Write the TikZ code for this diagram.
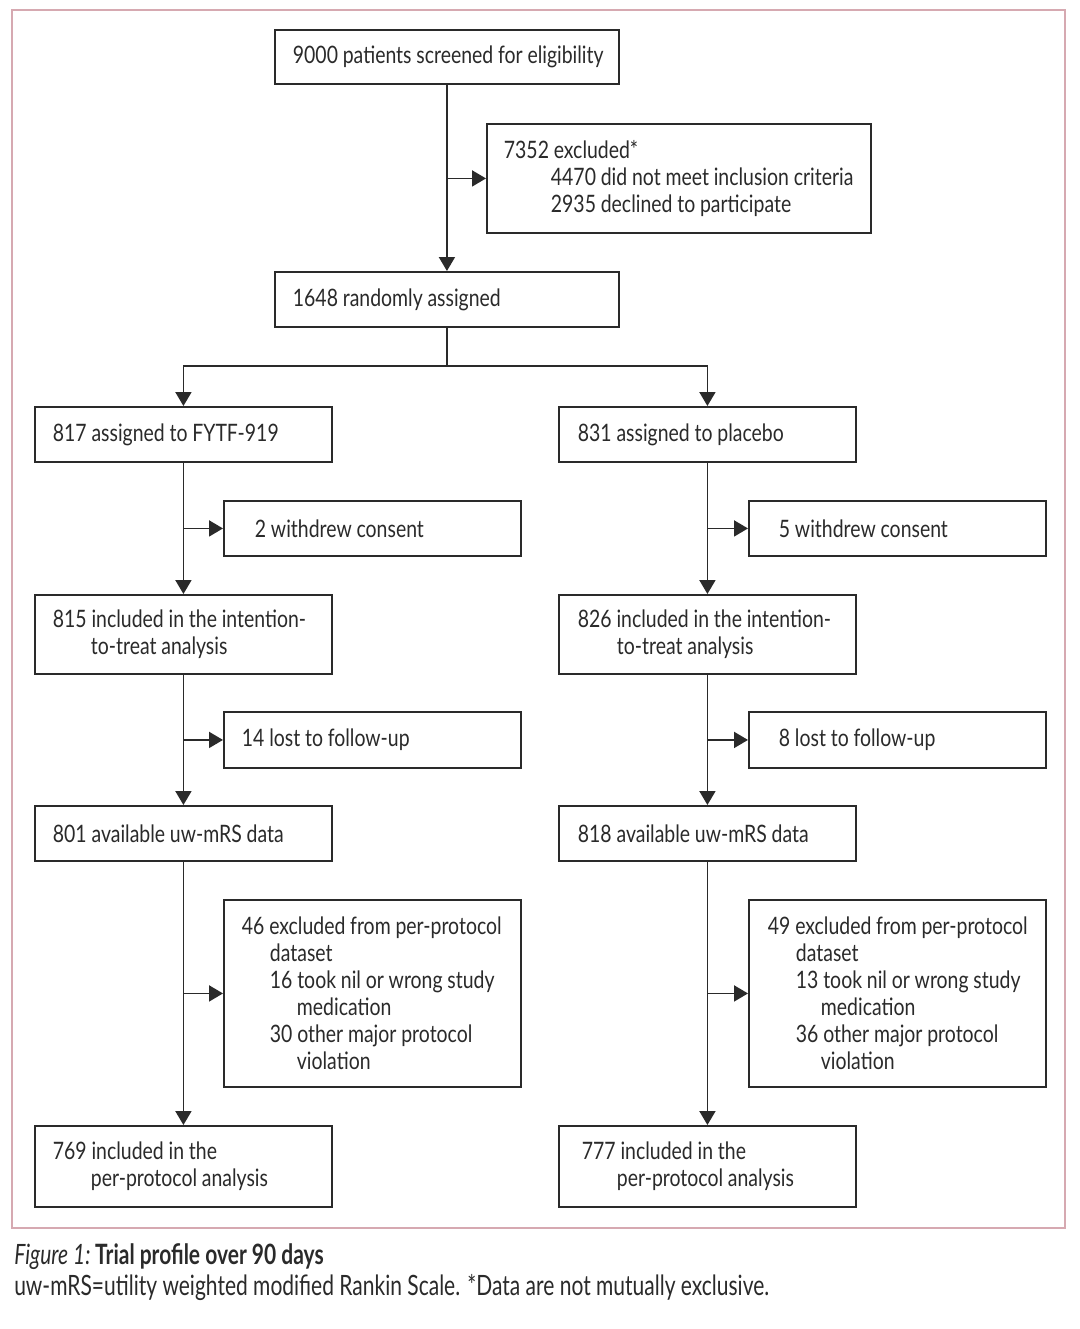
\documentclass[tikz,border=0pt]{standalone}
\usepackage{fontspec}
\setmainfont[FakeStretch=0.81]{Lato}
\newfontfamily\capfont[FakeStretch=0.75]{Lato}
\usetikzlibrary{arrows.meta}
\definecolor{ink}{HTML}{2A2A2A}
\definecolor{framec}{HTML}{D6A9B1}
\newcommand{\ind}[1]{\spaceskip=0.2em\relax\hspace*{#1}}
\tikzset{
  box/.style={draw=ink, line width=1.4pt, text=ink, anchor=north west, align=left,
    inner xsep=0pt, inner ysep=0pt, font=\fontsize{18pt}{20.25pt}\selectfont},
  arr/.style={draw=ink, line width=1.4pt, -{Triangle[length=10.5pt,width=12pt]}},
  ln/.style={draw=ink, line width=1.4pt},
  captext/.style={anchor=base west, inner sep=0pt, text=ink, font=\capfont\fontsize{21pt}{24pt}\selectfont},
}
\begin{document}
\begin{tikzpicture}[x=0.75pt,y=-0.75pt]
\useasboundingbox (0,0) rectangle (1080,1329);
\fill[white] (0,0) rectangle (1080,1329);
\draw[framec, line width=1pt] (12,10) rectangle (1065,1228);

\node[box, text width=258pt, minimum height=40.5pt] (a) at (274,29)
  {\ind{13.5pt}9000 patients screened for eligibility};
\node[box, text width=288pt, minimum height=81.75pt] (b) at (486,123)
  {\ind{12.75pt}7352 excluded*\\\ind{48pt}4470 did not meet inclusion criteria\\\ind{48pt}2935 declined to participate};
\node[box, text width=258pt, minimum height=41.25pt] (c) at (274,271)
  {\ind{13.5pt}1648 randomly assigned};

\node[box, text width=222.75pt, minimum height=41.25pt] (d1) at (34,406)
  {\ind{13.5pt}817 assigned to FYTF-919};
\node[box, text width=222.75pt, minimum height=41.25pt] (d2) at (558,406)
  {\ind{14.25pt}831 assigned to placebo};

\node[box, text width=222.75pt, minimum height=41.25pt] (e1) at (223,500)
  {\ind{23.25pt}2 withdrew consent};
\node[box, text width=222.75pt, minimum height=41.25pt] (e2) at (748,500)
  {\ind{22.5pt}5 withdrew consent};

\node[box, text width=222.75pt, minimum height=59.25pt] (f1) at (34,594)
  {\ind{13.5pt}815 included in the intention-\\\ind{42pt}to-treat analysis};
\node[box, text width=222.75pt, minimum height=59.25pt] (f2) at (558,594)
  {\ind{14.25pt}826 included in the intention-\\\ind{43.5pt}to-treat analysis};

\node[box, text width=222.75pt, minimum height=42pt] (g1) at (223,711)
  {\ind{13.5pt}14 lost to follow-up};
\node[box, text width=222.75pt, minimum height=42pt] (g2) at (748,711)
  {\ind{22.5pt}8 lost to follow-up};

\node[box, text width=222.75pt, minimum height=41.25pt] (h1) at (34,805)
  {\ind{13.5pt}801 available uw-mRS data};
\node[box, text width=222.75pt, minimum height=41.25pt] (h2) at (558,805)
  {\ind{14.25pt}818 available uw-mRS data};

\node[box, text width=222.75pt, minimum height=140.25pt] (i1) at (223,899)
  {\ind{13.5pt}46 excluded from per-protocol\\\ind{34.5pt}dataset\\\ind{34.5pt}16 took nil or wrong study\\\ind{54.75pt}medication\\\ind{34.5pt}30 other major protocol\\\ind{54.75pt}violation};
\node[box, text width=222.75pt, minimum height=140.25pt] (i2) at (748,899)
  {\ind{14.25pt}49 excluded from per-protocol\\\ind{35.25pt}dataset\\\ind{35.25pt}13 took nil or wrong study\\\ind{54pt}medication\\\ind{35.25pt}36 other major protocol\\\ind{54pt}violation};

\node[box, text width=222.75pt, minimum height=60.75pt] (j1) at (34,1125)
  {\ind{13.5pt}769 included in the\\\ind{42pt}per-protocol analysis};
\node[box, text width=222.75pt, minimum height=60.75pt] (j2) at (558,1125)
  {\ind{17.25pt}777 included in the\\\ind{43.5pt}per-protocol analysis};

% connectors
\draw[arr] (a.south) -- (c.north);
\draw[arr] (a.south |- b.west) -- (b.west);
\draw[ln] (c.south) -- ++(0,38) coordinate (split);
\draw[arr] (split) -| (d1.north);
\draw[arr] (split) -| (d2.north);
\foreach \s in {1,2}{
  \draw[arr] (d\s.south) -- (f\s.north);
  \draw[arr] (d\s.south |- e\s.west) -- (e\s.west);
  \draw[arr] (f\s.south) -- (h\s.north);
  \draw[arr] (f\s.south |- g\s.west) -- (g\s.west);
  \draw[arr] (h\s.south) -- (j\s.north);
  \draw[arr] (h\s.south |- i\s.west) -- (i\s.west);
}

% caption
\node[captext] (cap1) at (14,1264)
  {\textit{Figure 1:}\,\textbf{Trial profile over 90 days}};
\node[captext] (cap2) at (14,1295)
  {uw-mRS=utility weighted modified Rankin Scale. *Data are not mutually exclusive.};
\end{tikzpicture}
\end{document}
